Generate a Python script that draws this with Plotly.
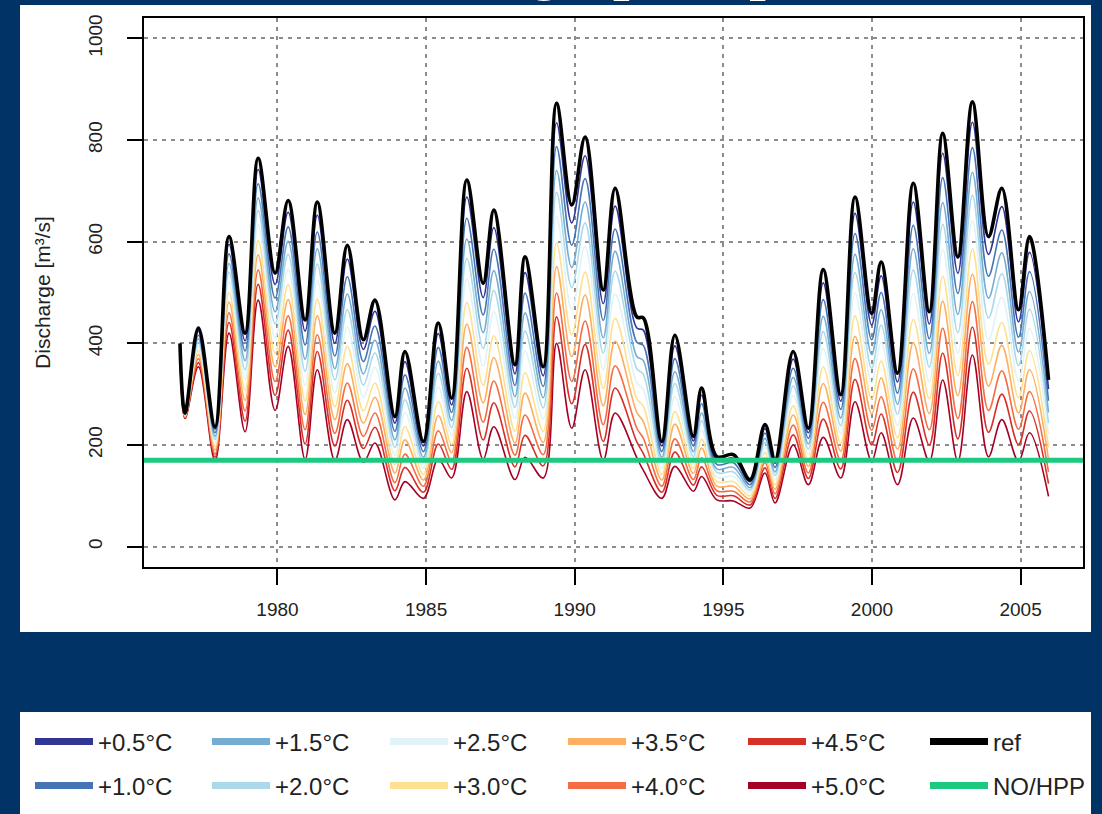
import plotly.graph_objects as go

# ---- data ----
years = [1976.72, 1976.89, 1977.34, 1977.90, 1978.37, 1978.91, 1979.35, 1979.92, 1980.36, 1980.93,
         1981.34, 1981.93, 1982.35, 1982.89, 1983.28, 1983.95, 1984.29, 1984.91, 1985.41, 1985.86,
         1986.37, 1986.92, 1987.28, 1987.99, 1988.33, 1988.94, 1989.39, 1989.90, 1990.35, 1990.96,
         1991.36, 1992.09, 1992.31, 1992.93, 1993.37, 1993.99, 1994.27, 1994.78, 1995.34, 1995.90,
         1996.40, 1996.74, 1997.35, 1997.86, 1998.36, 1998.95, 1999.43, 1999.99, 2000.31, 2000.86,
         2001.39, 2001.93, 2002.38, 2002.89, 2003.38, 2003.92, 2004.37, 2004.93, 2005.30, 2005.94]

ref = [400, 263, 430, 236, 610, 420, 764, 538, 681, 446, 678, 420, 593, 407, 485, 256, 384, 207, 440, 292,
       721, 518, 662, 358, 570, 354, 872, 672, 806, 505, 705, 452, 450, 207, 416, 217, 312, 177, 181, 132,
       240, 171, 384, 233, 545, 299, 688, 459, 560, 341, 715, 462, 813, 570, 875, 610, 705, 466, 610, 328]

plus05 = [399, 262, 424, 231, 595, 405, 742, 516, 658, 424, 652, 400, 566, 388, 463, 243, 364, 198, 419, 279,
          688, 490, 628, 340, 539, 336, 834, 637, 769, 478, 670, 430, 426, 198, 395, 208, 298, 170, 174, 128,
          232, 164, 369, 224, 519, 286, 656, 436, 533, 324, 678, 438, 774, 538, 835, 575, 669, 442, 579, 310]
plus10 = [397, 261, 416, 224, 576, 385, 714, 489, 629, 397, 619, 375, 531, 364, 434, 227, 338, 187, 392, 264,
          646, 456, 585, 317, 499, 315, 787, 593, 724, 445, 625, 402, 396, 187, 370, 198, 281, 162, 165, 122,
          223, 156, 351, 213, 486, 270, 616, 407, 500, 302, 632, 409, 726, 498, 785, 532, 623, 412, 541, 287]
plus15 = [396, 260, 409, 217, 557, 366, 686, 462, 601, 369, 586, 350, 497, 340, 406, 210, 312, 176, 365, 248,
          605, 421, 543, 295, 460, 293, 740, 549, 678, 411, 581, 374, 366, 176, 344, 187, 263, 153, 156, 116,
          213, 147, 333, 202, 453, 253, 575, 378, 466, 280, 586, 380, 677, 457, 736, 489, 578, 383, 502, 264]
plus20 = [394, 259, 402, 211, 540, 348, 661, 438, 575, 345, 556, 328, 466, 318, 381, 195, 289, 166, 341, 234,
          567, 390, 504, 274, 424, 273, 697, 510, 637, 381, 542, 350, 339, 166, 321, 177, 248, 146, 147, 111,
          205, 140, 316, 192, 423, 238, 539, 351, 436, 260, 544, 353, 634, 421, 691, 450, 537, 356, 467, 243]
plus25 = [393, 258, 394, 204, 521, 329, 633, 411, 546, 317, 523, 303, 432, 294, 353, 179, 264, 154, 314, 218,
          526, 355, 462, 252, 385, 251, 650, 466, 591, 348, 497, 322, 309, 154, 295, 166, 230, 137, 138, 106,
          195, 131, 298, 181, 390, 222, 499, 322, 402, 238, 498, 324, 585, 381, 641, 407, 491, 326, 429, 220]
plus30 = [391, 257, 386, 197, 500, 308, 602, 381, 515, 287, 487, 275, 394, 267, 322, 161, 236, 142, 285, 201,
          480, 317, 415, 227, 342, 227, 598, 417, 540, 311, 449, 291, 276, 142, 266, 154, 211, 128, 128, 100,
          185, 122, 277, 169, 354, 204, 454, 290, 365, 214, 447, 291, 532, 337, 586, 359, 441, 293, 386, 195]
plus35 = [390, 256, 378, 190, 481, 288, 574, 354, 486, 260, 454, 250, 360, 243, 294, 145, 210, 131, 258, 185,
          438, 283, 372, 204, 302, 205, 551, 374, 495, 277, 404, 264, 246, 131, 241, 144, 194, 119, 119, 94,
          175, 113, 259, 158, 321, 188, 414, 261, 332, 192, 401, 262, 483, 297, 536, 316, 396, 263, 348, 172]
plus40 = [388, 254, 370, 182, 460, 267, 544, 325, 454, 230, 417, 223, 322, 217, 263, 126, 182, 119, 228, 168,
          392, 245, 326, 180, 259, 181, 499, 325, 444, 240, 356, 233, 213, 119, 212, 132, 175, 110, 109, 88,
          165, 104, 239, 145, 284, 169, 370, 229, 295, 168, 350, 230, 430, 252, 482, 268, 346, 231, 305, 147]
plus45 = [387, 253, 362, 176, 441, 247, 516, 298, 426, 202, 384, 198, 288, 193, 235, 110, 156, 107, 202, 152,
          351, 210, 283, 157, 219, 159, 452, 281, 398, 207, 312, 206, 183, 107, 186, 121, 157, 101, 100, 82,
          155, 95, 220, 134, 251, 153, 329, 200, 261, 146, 304, 200, 381, 212, 432, 225, 300, 201, 267, 124]
plus50 = [385, 252, 354, 168, 420, 226, 485, 268, 394, 172, 348, 170, 250, 166, 204, 92, 128, 95, 172, 135,
          305, 172, 236, 132, 176, 135, 400, 233, 348, 170, 263, 175, 150, 95, 158, 109, 138, 92, 90, 76,
          145, 86, 200, 122, 215, 135, 285, 168, 224, 122, 253, 168, 328, 168, 377, 177, 250, 168, 224, 99]

NOHPP = 170

scen_labels = ["+0.5°C", "+1.0°C", "+1.5°C", "+2.0°C", "+2.5°C",
               "+3.0°C", "+3.5°C", "+4.0°C", "+4.5°C", "+5.0°C"]
scen_values = [plus05, plus10, plus15, plus20, plus25, plus30, plus35, plus40, plus45, plus50]
scen_colors = ["#313695", "#4575B4", "#74ADD1", "#ABD9E9", "#E0F3F8",
               "#FEE090", "#FDAE61", "#F46D43", "#D73027", "#A50026"]
ref_label, ref_color = "ref", "#000000"
nohpp_label, nohpp_color = "NO/HPP", "#1DC97E"

x_ticks = [1980, 1985, 1990, 1995, 2000, 2005]
y_ticks = [0, 200, 400, 600, 800, 1000]

# legend grid: two rows, six columns (column-major order)
legend_rows = [["+0.5°C", "+1.5°C", "+2.5°C", "+3.5°C", "+4.5°C", "ref"],
               ["+1.0°C", "+2.0°C", "+3.0°C", "+4.0°C", "+5.0°C", "NO/HPP"]]

BG = "#023366"
SANS = "Liberation Sans, Arial, sans-serif"

W, H = 1102, 814
ML, MR, MT, MB = 144, 19, 18, 247
pw, ph = W - ML - MR, H - MT - MB


def px(xp):
    return (xp - ML) / pw


def py(yp):
    return (H - MB - yp) / ph


fig = go.Figure()

# scenario lines (warmest first so the cooler ones lie on top)
for lab, vals, col in reversed(list(zip(scen_labels, scen_values, scen_colors))):
    fig.add_trace(go.Scatter(x=years, y=vals, mode="lines", name=lab, showlegend=False,
                             line=dict(color=col, width=1.6, shape="spline", smoothing=1.0)))
fig.add_trace(go.Scatter(x=years, y=ref, mode="lines", name=ref_label, showlegend=False,
                         line=dict(color=ref_color, width=3.6, shape="spline", smoothing=1.0)))
fig.add_hline(y=NOHPP, line=dict(color=nohpp_color, width=5))

# legend entries, one small legend per cell so the grid matches the original
color_of = dict(zip(scen_labels, scen_colors))
color_of[ref_label] = ref_color
color_of[nohpp_label] = nohpp_color
col_x = [30, 207, 385, 563, 743, 925]
row_y = [742, 786]
legend_layouts = {}
n = 0
for r, row in enumerate(legend_rows):
    for c, lab in enumerate(row):
        n += 1
        lid = "legend" if n == 1 else f"legend{n}"
        fig.add_trace(go.Scatter(x=[None], y=[None], mode="lines", name=lab, legend=lid,
                                 line=dict(color=color_of[lab], width=7)))
        legend_layouts[lid] = dict(x=px(col_x[c]), xanchor="left", y=py(row_y[r]), yanchor="middle",
                                   bgcolor="rgba(0,0,0,0)", itemwidth=58,
                                   font=dict(family=SANS, size=24, color="#222222"))

shapes = [
    dict(type="rect", xref="paper", yref="paper", x0=px(20), x1=px(1091), y0=py(632), y1=py(5),
         fillcolor="white", line=dict(width=0), layer="below"),
    dict(type="rect", xref="paper", yref="paper", x0=px(20), x1=px(1091), y0=py(830), y1=py(712),
         fillcolor="white", line=dict(width=0), layer="below"),
]

fig.update_layout(
    width=W, height=H,
    margin=dict(l=ML, r=MR, t=MT, b=MB, autoexpand=False),
    paper_bgcolor=BG, plot_bgcolor="white",
    shapes=list(fig.layout.shapes) + shapes,
    font=dict(family=SANS, size=18, color="#222222"),
    annotations=[dict(text="<b>Discharge [m³/s]</b>", xref="paper", yref="paper",
                      x=px(541), y=py(3), xanchor="center", yanchor="bottom", showarrow=False,
                      font=dict(family=SANS, size=58, color="white"))],
    **legend_layouts,
)

fig.update_xaxes(range=[1975.51, 2007.10], tickvals=x_ticks, ticktext=[str(v) for v in x_ticks],
                 showgrid=True, gridcolor="#8c8c8c", griddash="4px,5px", gridwidth=2,
                 showline=True, mirror=True, linecolor="black", linewidth=2,
                 ticks="outside", ticklen=16, tickwidth=2, tickcolor="black",
                 ticklabelstandoff=8, zeroline=False,
                 tickfont=dict(family=SANS, size=19, color="#222222"))
fig.update_yaxes(range=[-40, 1040], tickvals=y_ticks, ticktext=[str(v) for v in y_ticks],
                 showgrid=True, gridcolor="#8c8c8c", griddash="4px,5px", gridwidth=2,
                 showline=True, mirror=True, linecolor="black", linewidth=2,
                 ticks="outside", ticklen=15, tickwidth=2, tickcolor="black",
                 tickangle=-90, ticklabelstandoff=17, zeroline=False,
                 tickfont=dict(family=SANS, size=19, color="#222222"),
                 title=dict(text="Discharge [m³/s]", standoff=29,
                            font=dict(family=SANS, size=21, color="#222222")))

fig.write_html("out.html", config={"displayModeBar": False},
               post_script="document.body.style.margin='0';document.body.style.overflow='hidden';")
